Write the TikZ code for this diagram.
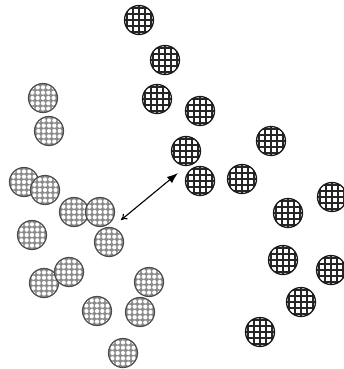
\documentclass[tikz,border=0pt]{standalone}
\usetikzlibrary{arrows.meta}
\tikzset{
  gridball/.style={circle, minimum size=29pt, inner sep=0pt, draw=black!90, line width=1.3pt, fill=white,
    path picture={
      \foreach \d in {-11.6,-5.8,0,5.8,11.6}{
        \draw[line width=2pt,black!85] ([xshift=\d pt,yshift=-20pt]path picture bounding box.center) -- ++(0,40pt);
        \draw[line width=2pt,black!85] ([yshift=\d pt,xshift=-20pt]path picture bounding box.center) -- ++(40pt,0);
      }}},
  dotball/.style={circle, minimum size=29pt, inner sep=0pt, draw=black!70, line width=1.2pt, fill=black!45,
    path picture={
      \foreach \i in {-3,...,3}{\foreach \j in {-3,...,3}{
        \fill[white] ([xshift=\i*5.3pt, yshift=\j*5.3pt]path picture bounding box.center) circle (2.1pt);
      }}}},
  arrowline/.style={line width=1.1pt, {To[length=6pt,width=7pt]}-{Latex[length=11pt,width=8pt]}}
}
\begin{document}
\begin{tikzpicture}[x=1pt,y=-1pt]
\useasboundingbox (0,0) rectangle (344,369);
% grid balls
\node[gridball] (g1) at (139,20) {};
\node[gridball] (g2) at (165,60) {};
\node[gridball] (g3) at (157,99) {};
\node[gridball] (g4) at (200,111) {};
\node[gridball] (g5) at (186,151) {};
\node[gridball] (g6) at (200,181) {};
\node[gridball] (g7) at (242,179) {};
\node[gridball] (g8) at (271,141) {};
\node[gridball] (g9) at (288,213) {};
\node[gridball] (g10) at (332,197) {};
\node[gridball] (g11) at (283,260) {};
\node[gridball] (g12) at (331,270) {};
\node[gridball] (g13) at (301,302) {};
\node[gridball] (g14) at (260,332) {};
% dotted balls
\node[dotball] (dA) at (43,98) {};
\node[dotball] (dB) at (49,131) {};
\node[dotball] (dC) at (24,182) {};
\node[dotball] (dD) at (45,190) {};
\node[dotball] (dE) at (74,212) {};
\node[dotball] (dF) at (100,212) {};
\node[dotball] (dG) at (32,235) {};
\node[dotball] (dH) at (109,242) {};
\node[dotball] (dJ) at (44,283) {};
\node[dotball] (dI) at (69,272) {};
\node[dotball] (dK) at (149,282) {};
\node[dotball] (dL) at (97,311) {};
\node[dotball] (dM) at (140,312) {};
\node[dotball] (dN) at (123,353) {};
% arrow
\coordinate (a1) at (121,220);
\coordinate (a2) at (178,173);
\draw[arrowline] (a1) -- (a2);
\end{tikzpicture}
\end{document}
